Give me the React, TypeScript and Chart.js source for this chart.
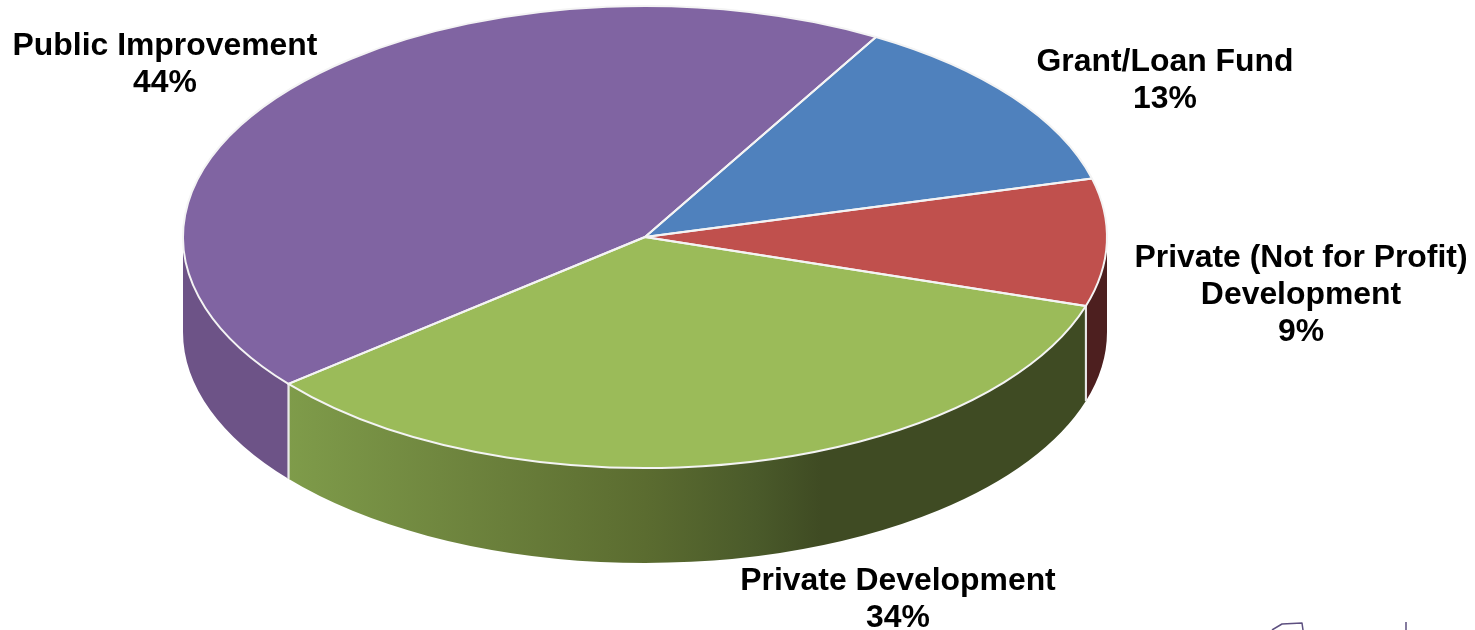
import React, { useEffect, useRef } from "react";
import { Chart, registerables } from "chart.js";

Chart.register(...registerables);

const categories = ["Grant/Loan Fund", "Private (Not for Profit)\nDevelopment", "Private Development", "Public Improvement"];
const shares = [12.6, 8.9, 34.2, 44.3];
const topColors = ["#4f81bd", "#c0504d", "#9bbb59", "#8064a2"];
const labelCenters = [
  [1165, 62],
  [1301, 258],
  [898, 581],
  [165, 46],
];
const firstSliceRotation = 30;

const CX = 645;
const CY = 237;
const RX = 462;
const RY = 231;
const DEPTH = 95;
const LINE_H = 37.3;

// colour stops along the x extent of the pie's wall
const wallStops: [number, string][][] = [
  [[0, "#2f4a70"], [1, "#2f4a70"]],
  [[0, "#4d1f1f"], [1, "#4d1f1f"]],
  [[0.11, "#7f9c4a"], [0.31, "#6d833d"], [0.5, "#5b6c30"], [0.62, "#4a5a2a"], [0.69, "#3f4b23"], [1, "#3f4b23"]],
  [[0, "#6d5387"], [1, "#6d5387"]],
];

const pie3d = {
  id: "pie3d",
  beforeDatasetsDraw(chart: any) {
    const ctx = chart.ctx;
    const arcs = chart.getDatasetMeta(0).data;
    const { x, y, outerRadius } = arcs[0].getProps(["x", "y", "outerRadius"], true);
    ctx.save();
    arcs.forEach((arc: any, i: number) => {
      const { startAngle, endAngle } = arc.getProps(["startAngle", "endAngle"], true);
      const a = Math.max(startAngle, 0);
      const b = Math.min(endAngle, Math.PI);
      if (b <= a) return;
      const g = ctx.createLinearGradient(CX - RX, 0, CX + RX, 0);
      wallStops[i].forEach(([p, c]) => g.addColorStop(p, c));
      ctx.beginPath();
      ctx.ellipse(CX, CY, RX, RY, 0, a, b);
      ctx.ellipse(CX, CY + DEPTH, RX, RY, 0, b, a, true);
      ctx.closePath();
      ctx.fillStyle = g;
      ctx.fill();
      // white seams where a wall meets the next one
      for (const ang of [startAngle, endAngle]) {
        if (ang > 0 && ang < Math.PI) {
          const px = CX + RX * Math.cos(ang);
          const py = CY + RY * Math.sin(ang);
          ctx.beginPath();
          ctx.moveTo(px, py);
          ctx.lineTo(px, py + DEPTH);
          ctx.strokeStyle = "#e8e8e8";
          ctx.lineWidth = 2;
          ctx.stroke();
        }
      }
    });
    ctx.restore();
    ctx.save();
    ctx.translate(CX, CY);
    ctx.scale(RX / outerRadius, RY / outerRadius);
    ctx.translate(-x, -y);
  },
  afterDatasetsDraw(chart: any) {
    const ctx = chart.ctx;
    ctx.restore();
    const arcs = chart.getDatasetMeta(0).data;
    ctx.save();
    ctx.strokeStyle = "#f4f4f4";
    ctx.lineWidth = 2;
    ctx.lineJoin = "round";
    arcs.forEach((arc: any) => {
      const { startAngle, endAngle } = arc.getProps(["startAngle", "endAngle"], true);
      ctx.beginPath();
      ctx.moveTo(CX, CY);
      ctx.ellipse(CX, CY, RX, RY, 0, startAngle, endAngle);
      ctx.closePath();
      ctx.stroke();
    });
    // stray logo fragment cropped at the bottom edge of the slide
    ctx.strokeStyle = "#5d5080";
    ctx.lineWidth = 1.5;
    ctx.beginPath();
    ctx.moveTo(1272, 630);
    ctx.lineTo(1282, 624);
    ctx.lineTo(1302, 623);
    ctx.lineTo(1303, 630);
    ctx.moveTo(1406, 622);
    ctx.lineTo(1406, 630);
    ctx.stroke();
    ctx.restore();
  },
  afterDraw(chart: any) {
    const ctx = chart.ctx;
    ctx.save();
    ctx.fillStyle = "#000";
    ctx.font = 'bold 31.9px "Liberation Sans", Arial, sans-serif';
    ctx.textAlign = "center";
    ctx.textBaseline = "middle";
    categories.forEach((name, i) => {
      const lines = [...name.split("\n"), `${Math.round(shares[i])}%`];
      lines.forEach((line, k) => {
        ctx.fillText(line, labelCenters[i][0], labelCenters[i][1] + k * LINE_H);
      });
    });
    ctx.restore();
  },
};

export default function App() {
  const ref = useRef<HTMLCanvasElement>(null);
  useEffect(() => {
    const chart = new Chart(ref.current!, {
      type: "pie",
      data: {
        labels: categories,
        datasets: [
          {
            data: shares,
            backgroundColor: topColors,
            borderWidth: 0,
            hoverOffset: 0,
          },
        ],
      },
      options: {
        responsive: false,
        animation: false,
        rotation: firstSliceRotation,
        plugins: { legend: { display: false }, tooltip: { enabled: false }, title: { display: false } },
      },
      plugins: [pie3d],
    } as any);
    return () => chart.destroy();
  }, []);
  return (
    <canvas
      ref={ref}
      width={1475}
      height={630}
      style={{ position: "fixed", left: 0, top: 0, width: 1475, height: 630, display: "block" }}
    />
  );
}
